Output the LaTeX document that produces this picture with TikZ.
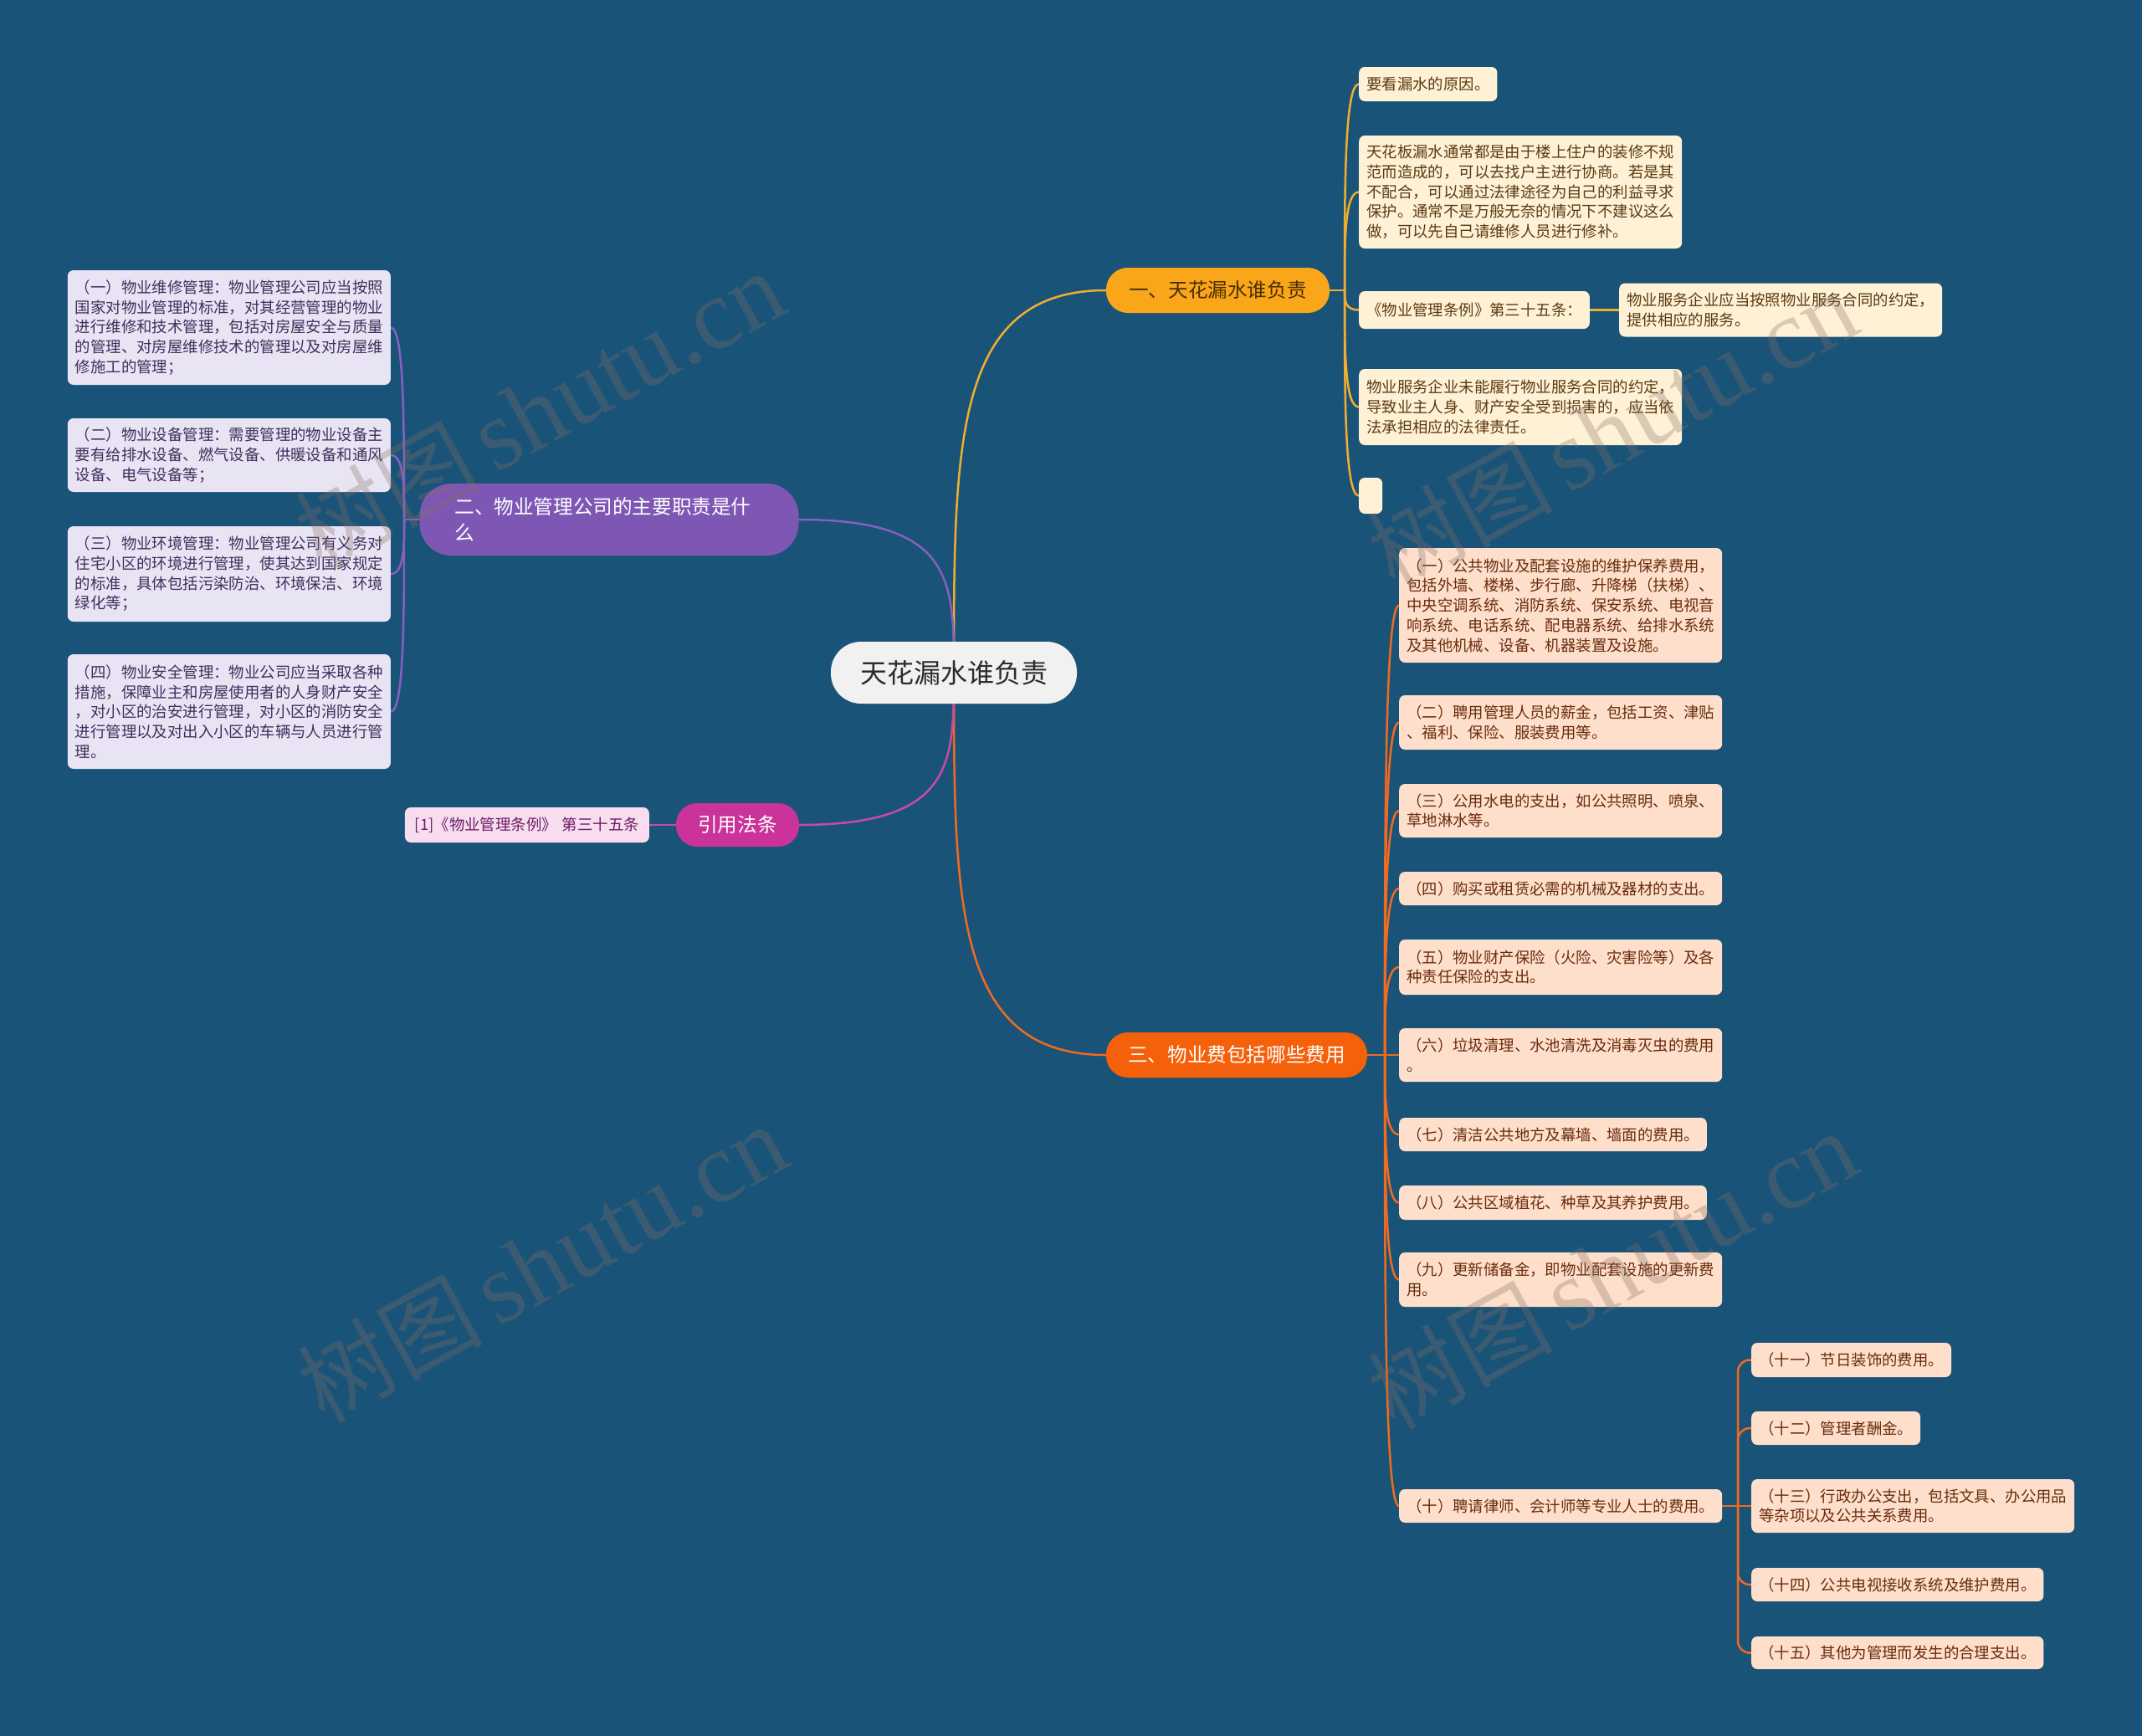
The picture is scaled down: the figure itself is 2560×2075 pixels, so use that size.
\documentclass[tikz,border=0pt]{standalone}
\usepackage{fontspec}
\setmainfont{Noto Sans CJK SC}
\newfontfamily\wmlatin{Liberation Serif}
\usetikzlibrary{calc}
\definecolor{bgc}{HTML}{1A5378}
\definecolor{rootfill}{HTML}{F1F1F1}
\definecolor{roottext}{HTML}{2B2B2B}
\definecolor{onefill}{HTML}{FAA61A}
\definecolor{onetext}{HTML}{4A2C00}
\definecolor{oneline}{HTML}{F0AE30}
\definecolor{aleaffill}{HTML}{FFF1D6}
\definecolor{aleaftext}{HTML}{5A3A12}
\definecolor{twofill}{HTML}{7E57B5}
\definecolor{twoline}{HTML}{8560C0}
\definecolor{lleaffill}{HTML}{E9E4F4}
\definecolor{lleaftext}{HTML}{3E2F5C}
\definecolor{threefill}{HTML}{F5600A}
\definecolor{threeline}{HTML}{F06A20}
\definecolor{cleaffill}{HTML}{FDDFCB}
\definecolor{cleaftext}{HTML}{6B2B0C}
\definecolor{fourfill}{HTML}{C9339A}
\definecolor{fourline}{HTML}{C84AA5}
\definecolor{rleaffill}{HTML}{F8DDF0}
\definecolor{rleaftext}{HTML}{6A1F62}
\definecolor{wmcol}{RGB}{135,112,100}
\pgfdeclarelayer{back}
\pgfdeclarelayer{lines}
\pgfsetlayers{back,lines,main}
\newcommand\lfnt{\fontsize{18.4pt}{23.7pt}\selectfont}
\newcommand\bfnt{\fontsize{23.6pt}{31pt}\selectfont}
\tikzset{
  fan/.style={to path={.. controls ($(\tikztostart)!0.5!(\tikztostart|-\tikztotarget)$) and (\tikztostart|-\tikztotarget) .. (\tikztotarget)}},
  rc/.style={to path={.. controls ($(\tikztostart)!0.6!(\tikztostart|-\tikztotarget)$) and (\tikztostart|-\tikztotarget) .. (\tikztotarget)}},
  leaf/.style={rounded corners=7pt, inner xsep=9pt, inner ysep=2pt, align=left, font=\lfnt},
  aleaf/.style={leaf, fill=aleaffill, text=aleaftext, anchor=west},
  lleaf/.style={leaf, fill=lleaffill, text=lleaftext, anchor=east},
  cleaf/.style={leaf, fill=cleaffill, text=cleaftext, anchor=west},
  rleaf/.style={leaf, fill=rleaffill, text=rleaftext, anchor=east},
  branch/.style={font=\bfnt, inner sep=0pt, align=left},
  cline/.style={line width=2.5pt, line cap=round},
  wm/.style={text=wmcol, opacity=0.3, inner sep=0pt}
}
\begin{document}
\begin{tikzpicture}[x=1pt,y=-1pt]
\useasboundingbox (0,0) rectangle (2560,2075);
\begin{pgfonlayer}{back}
\fill[bgc] (0,0) rectangle (2560,2075);
\end{pgfonlayer}

% root
\node[fill=rootfill, text=roottext, rounded corners=36pt, minimum width=294pt, minimum height=74pt, inner sep=0pt, font=\fontsize{32pt}{38pt}\selectfont] (root) at (1140,804) {天花漏水谁负责};

% branches
\node[branch, fill=onefill, text=onetext, rounded corners=26pt, minimum width=267pt, minimum height=54pt] (b1) at (1455.5,347) {一、天花漏水谁负责};
\node[branch, fill=twofill, text=white, rounded corners=38pt, minimum height=86pt, text width=369pt, inner xsep=42pt] (b2) at (728,621) {二、物业管理公司的主要职责是什\\么};
\node[branch, fill=threefill, text=white, rounded corners=26pt, minimum width=312pt, minimum height=54pt] (b3) at (1478,1261) {三、物业费包括哪些费用};
\node[branch, fill=fourfill, text=white, rounded corners=25pt, minimum width=147pt, minimum height=52pt] (b4) at (881.5,986) {引用法条};

% branch 1 leaves
\node[aleaf, minimum height=41pt] (a1) at (1624,100.5) {要看漏水的原因。};
\node[aleaf, minimum height=135pt] (a2) at (1624,229.5) {天花板漏水通常都是由于楼上住户的装修不规\\范而造成的，可以去找户主进行协商。若是其\\不配合，可以通过法律途径为自己的利益寻求\\保护。通常不是万般无奈的情况下不建议这么\\做，可以先自己请维修人员进行修补。};
\node[aleaf, minimum height=45pt] (a3) at (1624,370.5) {《物业管理条例》第三十五条：};
\node[aleaf, minimum height=64pt] (a3a) at (1935,370.5) {物业服务企业应当按照物业服务合同的约定，\\提供相应的服务。};
\node[aleaf, minimum height=91pt] (a4) at (1624,486.5) {物业服务企业未能履行物业服务合同的约定，\\导致业主人身、财产安全受到损害的，应当依\\法承担相应的法律责任。};
\node[aleaf, minimum height=43pt, minimum width=28pt, inner xsep=0pt] (a5) at (1624,592.5) {};

% branch 2 leaves
\node[lleaf, minimum height=137pt] (l1) at (467,391.5) {（一）物业维修管理：物业管理公司应当按照\\国家对物业管理的标准，对其经营管理的物业\\进行维修和技术管理，包括对房屋安全与质量\\的管理、对房屋维修技术的管理以及对房屋维\\修施工的管理；};
\node[lleaf, minimum height=88pt] (l2) at (467,544) {（二）物业设备管理：需要管理的物业设备主\\要有给排水设备、燃气设备、供暖设备和通风\\设备、电气设备等；};
\node[lleaf, minimum height=114pt] (l3) at (467,686) {（三）物业环境管理：物业管理公司有义务对\\住宅小区的环境进行管理，使其达到国家规定\\的标准，具体包括污染防治、环境保洁、环境\\绿化等；};
\node[lleaf, minimum height=137pt] (l4) at (467,850.5) {（四）物业安全管理：物业公司应当采取各种\\措施，保障业主和房屋使用者的人身财产安全\\，对小区的治安进行管理，对小区的消防安全\\进行管理以及对出入小区的车辆与人员进行管\\理。};

% branch 3 leaves
\node[cleaf, minimum height=137pt] (c1) at (1672,723.5) {（一）公共物业及配套设施的维护保养费用，\\包括外墙、楼梯、步行廊、升降梯（扶梯）、\\中央空调系统、消防系统、保安系统、电视音\\响系统、电话系统、配电器系统、给排水系统\\及其他机械、设备、机器装置及设施。};
\node[cleaf, minimum height=65pt] (c2) at (1672,863.5) {（二）聘用管理人员的薪金，包括工资、津贴\\、福利、保险、服装费用等。};
\node[cleaf, minimum height=64pt] (c3) at (1672,969) {（三）公用水电的支出，如公共照明、喷泉、\\草地淋水等。};
\node[cleaf, minimum height=40pt] (c4) at (1672,1062) {（四）购买或租赁必需的机械及器材的支出。};
\node[cleaf, minimum height=66pt] (c5) at (1672,1156) {（五）物业财产保险（火险、灾害险等）及各\\种责任保险的支出。};
\node[cleaf, minimum height=64pt] (c6) at (1672,1261) {（六）垃圾清理、水池清洗及消毒灭虫的费用\\。};
\node[cleaf, minimum height=40pt] (c7) at (1672,1356) {（七）清洁公共地方及幕墙、墙面的费用。};
\node[cleaf, minimum height=41pt] (c8) at (1672,1437.5) {（八）公共区域植花、种草及其养护费用。};
\node[cleaf, minimum height=65pt] (c9) at (1672,1529.5) {（九）更新储备金，即物业配套设施的更新费\\用。};
\node[cleaf, minimum height=40pt] (c10) at (1672,1800) {（十）聘请律师、会计师等专业人士的费用。};

% sub leaves of (十)
\node[cleaf, minimum height=41pt] (d11) at (2093,1625.5) {（十一）节日装饰的费用。};
\node[cleaf, minimum height=40pt] (d12) at (2093,1707) {（十二）管理者酬金。};
\node[cleaf, minimum height=64pt] (d13) at (2093,1800) {（十三）行政办公支出，包括文具、办公用品\\等杂项以及公共关系费用。};
\node[cleaf, minimum height=40pt] (d14) at (2093,1894) {（十四）公共电视接收系统及维护费用。};
\node[cleaf, minimum height=39pt] (d15) at (2093,1975.5) {（十五）其他为管理而发生的合理支出。};

% branch 4 leaf
\node[rleaf, minimum height=42pt, inner xsep=12pt] (r1) at (776,986) {[1]《物业管理条例》\hspace{6pt}第三十五条};

% junctions
\coordinate (j1) at (1607,347);
\coordinate (j2) at (483,621);
\coordinate (j3) at (1655,1261);
\coordinate (jd) at (2077,1800);

\begin{pgfonlayer}{lines}
% root to branches
\draw[cline, oneline] (root.center) to[rc] (b1.west);
\draw[cline, twoline] (root.center) to[rc] (b2.east);
\draw[cline, threeline] (root.center) to[rc] (b3.west);
\draw[cline, fourline] (root.center) to[rc] (b4.east);
% branch 1
\draw[cline, oneline] (b1.east) -- (j1);
\foreach \n in {a1,a2,a3,a4,a5} \draw[cline, oneline] (j1) to[fan] (\n.west);
\draw[cline, oneline] (a3.east) -- (a3a.west);
% branch 2
\draw[cline, twoline] (b2.west) -- (j2);
\foreach \n in {l1,l2,l3,l4} \draw[cline, twoline] (j2) to[fan] (\n.east);
% branch 3
\draw[cline, threeline] (b3.east) -- (j3);
\foreach \n in {c1,c2,c3,c4,c5,c6,c7,c8,c9,c10} \draw[cline, threeline] (j3) to[fan] (\n.west);
\draw[cline, threeline] (c10.east) -- (d13.west);
\foreach \n in {d11,d12,d14,d15} \draw[cline, threeline, rounded corners=14pt] (jd) |- (\n.west);
% branch 4
\draw[cline, fourline] (b4.west) -- (r1.east);
\end{pgfonlayer}

% watermarks
\foreach \p/\nm in {{(645,490)}/w1,{(1927,514)}/w2,{(648,1510)}/w3,{(1927,1518)}/w4}
  \node[wm, rotate=29] (\nm) at \p {{\fontsize{110pt}{110pt}\selectfont 树图}\hspace{18pt}{\wmlatin\fontsize{120pt}{120pt}\selectfont shutu.cn}};
\end{tikzpicture}
\end{document}
